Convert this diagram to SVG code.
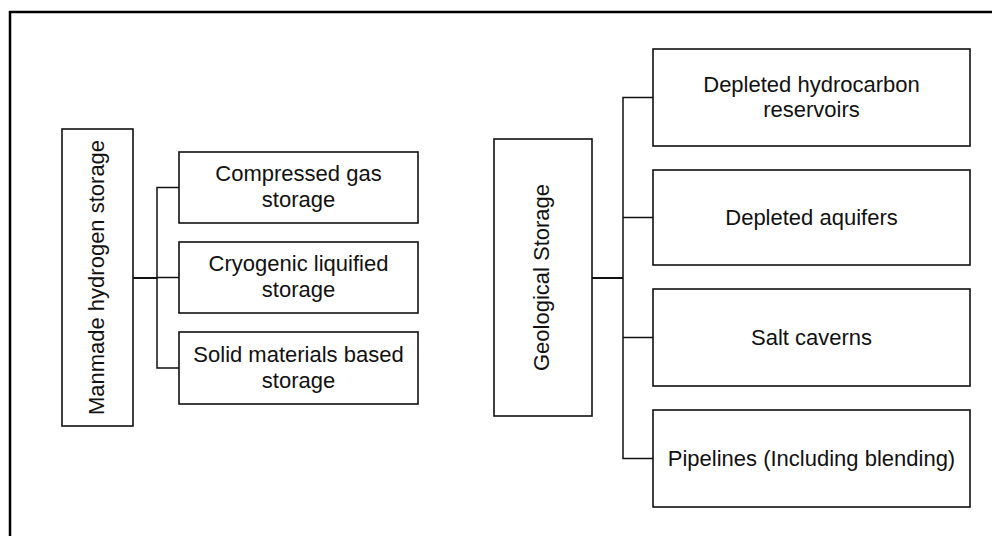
<svg xmlns="http://www.w3.org/2000/svg" width="992" height="536" viewBox="0 0 992 536">
<style>
.frame{fill:none;stroke:#000;stroke-width:2.5}
.box{fill:#fff;stroke:#111;stroke-width:1.6}
.ln{fill:none;stroke:#111;stroke-width:1.5}
.stem{fill:none;stroke:#111;stroke-width:2}
text{font-family:"Liberation Sans",Arial,sans-serif;font-size:22px;fill:#111;text-anchor:middle}
</style>
<rect width="992" height="536" fill="#fff"/>
<rect class="frame" x="10" y="12" width="1000" height="560"/>
<g id="connectors">
<path class="stem" d="M133 278 H157"/>
<path class="ln" d="M179 187.5 H157 V368 H179 M157 277.5 H179"/>
<path class="stem" d="M592 278 H623"/>
<path class="ln" d="M653 97.5 H623 V458.5 H653 M623 217.5 H653 M623 337.5 H653"/>
</g>
<g id="manmade">
<rect class="box" x="62" y="129" width="71" height="297"/>
<text transform="translate(103.5,277.5) rotate(-90)">Manmade hydrogen storage</text>
</g>
<g id="compressed">
<rect class="box" x="179" y="152" width="239" height="71"/>
<text x="298.5" y="181">Compressed gas</text>
<text x="298.5" y="207">storage</text>
</g>
<g id="cryogenic">
<rect class="box" x="179" y="242" width="239" height="71"/>
<text x="298.5" y="271">Cryogenic liquified</text>
<text x="298.5" y="297">storage</text>
</g>
<g id="solid">
<rect class="box" x="179" y="332" width="239" height="72"/>
<text x="298.5" y="361.5">Solid materials based</text>
<text x="298.5" y="387.5">storage</text>
</g>
<g id="geological">
<rect class="box" x="494" y="139" width="98" height="277"/>
<text transform="translate(548.5,277.5) rotate(-90)">Geological Storage</text>
</g>
<g id="hydrocarbon">
<rect class="box" x="653" y="49" width="317" height="97"/>
<text x="811.5" y="92">Depleted hydrocarbon</text>
<text x="811.5" y="117">reservoirs</text>
</g>
<g id="aquifers">
<rect class="box" x="653" y="170" width="317" height="95"/>
<text x="811.5" y="225">Depleted aquifers</text>
</g>
<g id="salt">
<rect class="box" x="653" y="289" width="317" height="97"/>
<text x="811.5" y="345">Salt caverns</text>
</g>
<g id="pipelines">
<rect class="box" x="653" y="410" width="317" height="97"/>
<text x="811.5" y="466">Pipelines (Including blending)</text>
</g>
</svg>
